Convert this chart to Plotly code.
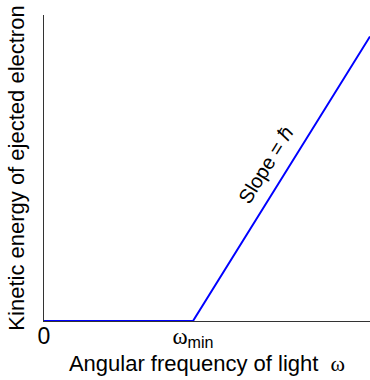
import plotly.graph_objects as go

omega = [0, 1, 2.188]
kinetic = [0, 0, 0.93]
tick_vals = [0, 1]
tick_text = ["0", "<span style='font-family:Liberation Serif'>ω</span><sub>min</sub>"]

fig = go.Figure()
fig.add_trace(go.Scatter(x=omega, y=kinetic, mode="lines",
                         line=dict(color="#0000ff", width=2), showlegend=False,
                         hoverinfo="skip"))
fig.add_annotation(x=1.49, y=0.51, xref="x", yref="y", text="Slope = ℏ",
                   textangle=-58, showarrow=False,
                   font=dict(size=20, color="black", family="Liberation Sans"))
fig.update_layout(
    width=370, height=380,
    margin=dict(l=44, r=0, t=15, b=59),
    paper_bgcolor="white", plot_bgcolor="white",
    font=dict(family="Liberation Sans", color="black", size=20),
    xaxis=dict(range=[0, 2.188], showgrid=False, zeroline=False,
               showline=True, linecolor="#333", linewidth=1,
               tickvals=tick_vals, ticktext=tick_text, ticks="",
               tickfont=dict(size=23), ticklabelstandoff=-6,
               title=dict(text="Angular frequency of light  <span style='font-family:Liberation Serif'>ω</span>",
                          font=dict(size=22), standoff=2)),
    yaxis=dict(range=[0, 1], showgrid=False, zeroline=False,
               showline=True, linecolor="#333", linewidth=1,
               showticklabels=False, ticks="",
               title=dict(text="Kinetic energy of ejected electron",
                          font=dict(size=22), standoff=12)),
)
fig.write_html("out.html")
